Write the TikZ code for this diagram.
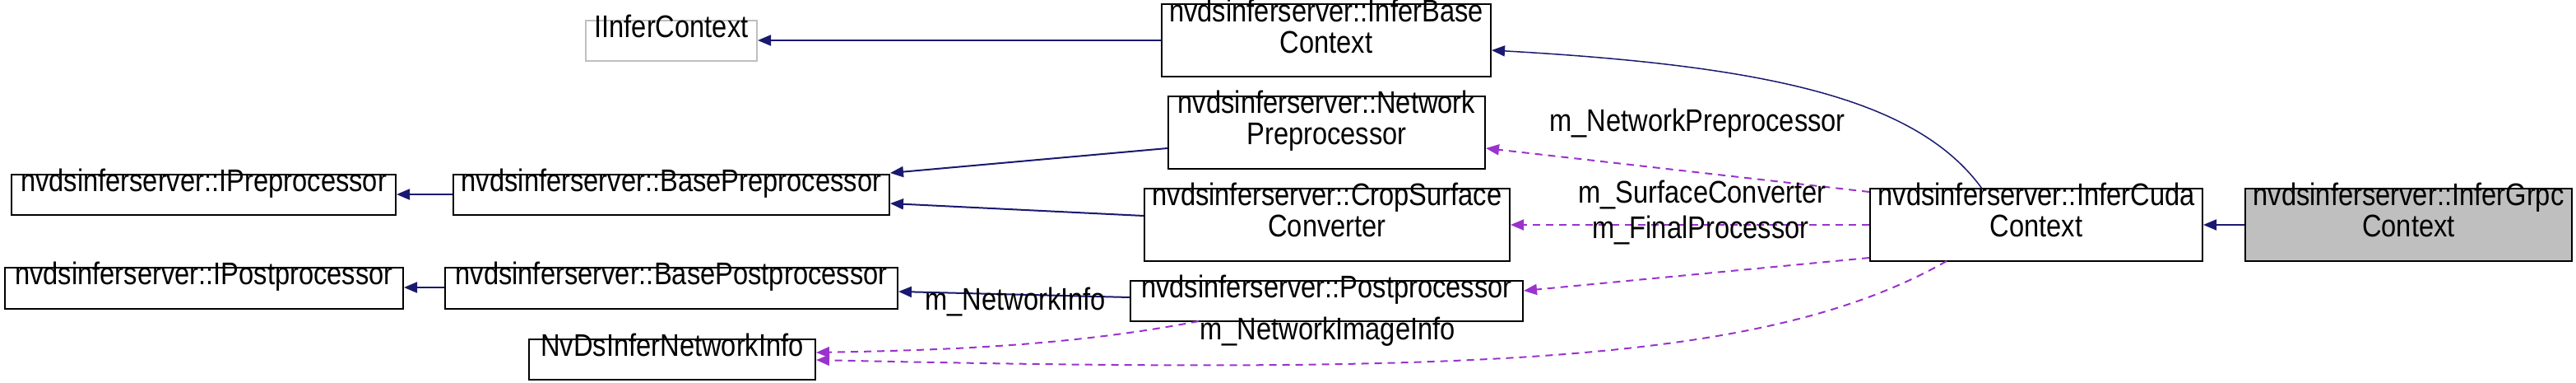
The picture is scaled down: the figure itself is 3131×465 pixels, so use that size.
\documentclass[tikz,border=0pt]{standalone}
\usepackage{fontspec}
\setmainfont{Liberation Sans}[FakeStretch=0.86]
\usetikzlibrary{arrows.meta}
\definecolor{edgeblue}{HTML}{191970}
\definecolor{edgepurple}{HTML}{9A32CD}
\begin{document}
\begin{tikzpicture}[x=1pt,y=-1pt,
  box/.style={draw=black,line width=2pt,fill=white,inner sep=0pt},
  txt/.style={anchor=north,inner sep=0pt,align=center,font=\fontsize{38}{38}\selectfont,yshift=6pt},
  lbl/.style={anchor=west,inner sep=0pt,font=\fontsize{38}{38}\selectfont},
  inh/.style={draw=edgeblue,line width=2pt,-{Triangle[length=16pt,width=13pt]}},
  use/.style={draw=edgepurple,line width=2pt,dash pattern=on 9pt off 7pt,-{Triangle[length=16pt,width=13pt]}}]
\useasboundingbox (0,0) rectangle (3131,465);
\newcommand{\bx}[6]{\node[box,#6,minimum width=#4-#2,minimum height=#5-#3] (#1) at ({(#2+#4)/2},{(#3+#5)/2}) {};}
\bx{ictx}{712}{25}{920}{74}{draw=lightgray}
\bx{ipre}{14}{212}{481}{261}{}
\bx{bpre}{551}{212}{1081}{261}{}
\bx{ipost}{6}{325}{490}{375}{}
\bx{bpost}{541}{325}{1091}{375}{}
\bx{ninfo}{643}{412}{991}{461}{}
\bx{base}{1412}{5}{1812}{93}{}
\bx{npre}{1420}{117}{1805}{205}{}
\bx{crop}{1391}{229}{1835}{317}{}
\bx{post}{1374}{341}{1851}{390}{}
\bx{cuda}{2273}{229}{2677}{317}{}
\bx{grpc}{2729}{229}{3126}{317}{fill={rgb,255:red,191;green,191;blue,191}}
\node[txt] (ictx-t) at (ictx.north) {IInferContext};
\node[txt] (ipre-t) at (ipre.north) {nvdsinferserver::IPreprocessor};
\node[txt] (bpre-t) at (bpre.north) {nvdsinferserver::BasePreprocessor};
\node[txt] (ipost-t) at (ipost.north) {nvdsinferserver::IPostprocessor};
\node[txt] (bpost-t) at (bpost.north) {nvdsinferserver::BasePostprocessor};
\node[txt] (ninfo-t) at (ninfo.north) {NvDsInferNetworkInfo};
\node[txt,yshift=-1pt] (base-t) at (base.north) {nvdsinferserver::InferBase\\Context};
\node[txt] (npre-t) at (npre.north) {nvdsinferserver::Network\\Preprocessor};
\node[txt] (crop-t) at (crop.north) {nvdsinferserver::CropSurface\\Converter};
\node[txt] (post-t) at (post.north) {nvdsinferserver::Postprocessor};
\node[txt] (cuda-t) at (cuda.north) {nvdsinferserver::InferCuda\\Context};
\node[txt] (grpc-t) at (grpc.north) {nvdsinferserver::InferGrpc\\Context};
% inheritance
\draw[inh] (base.west |- 0,49) -- (ictx.east |- 0,49);
\draw[inh] (bpre.west |- 0,236) -- (ipre.east |- 0,236);
\draw[inh] (bpost.west |- 0,349) -- (ipost.east |- 0,349);
\draw[inh] (npre.west |- 0,180) -- (bpre.east |- 0,210);
\draw[inh] (crop.west |- 0,262) -- (bpre.east |- 0,247);
\draw[inh] (post.west |- 0,361) -- (bpost.east |- 0,354);
\draw[inh] (grpc.west |- 0,273) -- (cuda.east |- 0,273);
\draw[inh,line width=1.5pt] (2409,229) .. controls (2330,120) and (2150,80) .. (base.east |- 0,61);
% usage
\draw[use] (cuda.west |- 0,233) -- (npre.east |- 0,180);
\draw[use] (cuda.west |- 0,273) -- (crop.east |- 0,273);
\draw[use] (cuda.west |- 0,313) -- (post.east |- 0,353);
\draw[use] (1457,390) .. controls (1300,420) and (1150,425) .. (ninfo.east |- 0,428);
\draw[use] (2366,317) .. controls (2150,440) and (1800,455) .. (ninfo.east |- 0,437);
\node[lbl] (l1) at (1883,150) {m\_NetworkPreprocessor};
\node[lbl] (l2) at (1918,237) {m\_SurfaceConverter};
\node[lbl] (l3) at (1935,280) {m\_FinalProcessor};
\node[lbl] (l4) at (1124,367) {m\_NetworkInfo};
\node[lbl] (l5) at (1458,403) {m\_NetworkImageInfo};
\end{tikzpicture}
\end{document}
